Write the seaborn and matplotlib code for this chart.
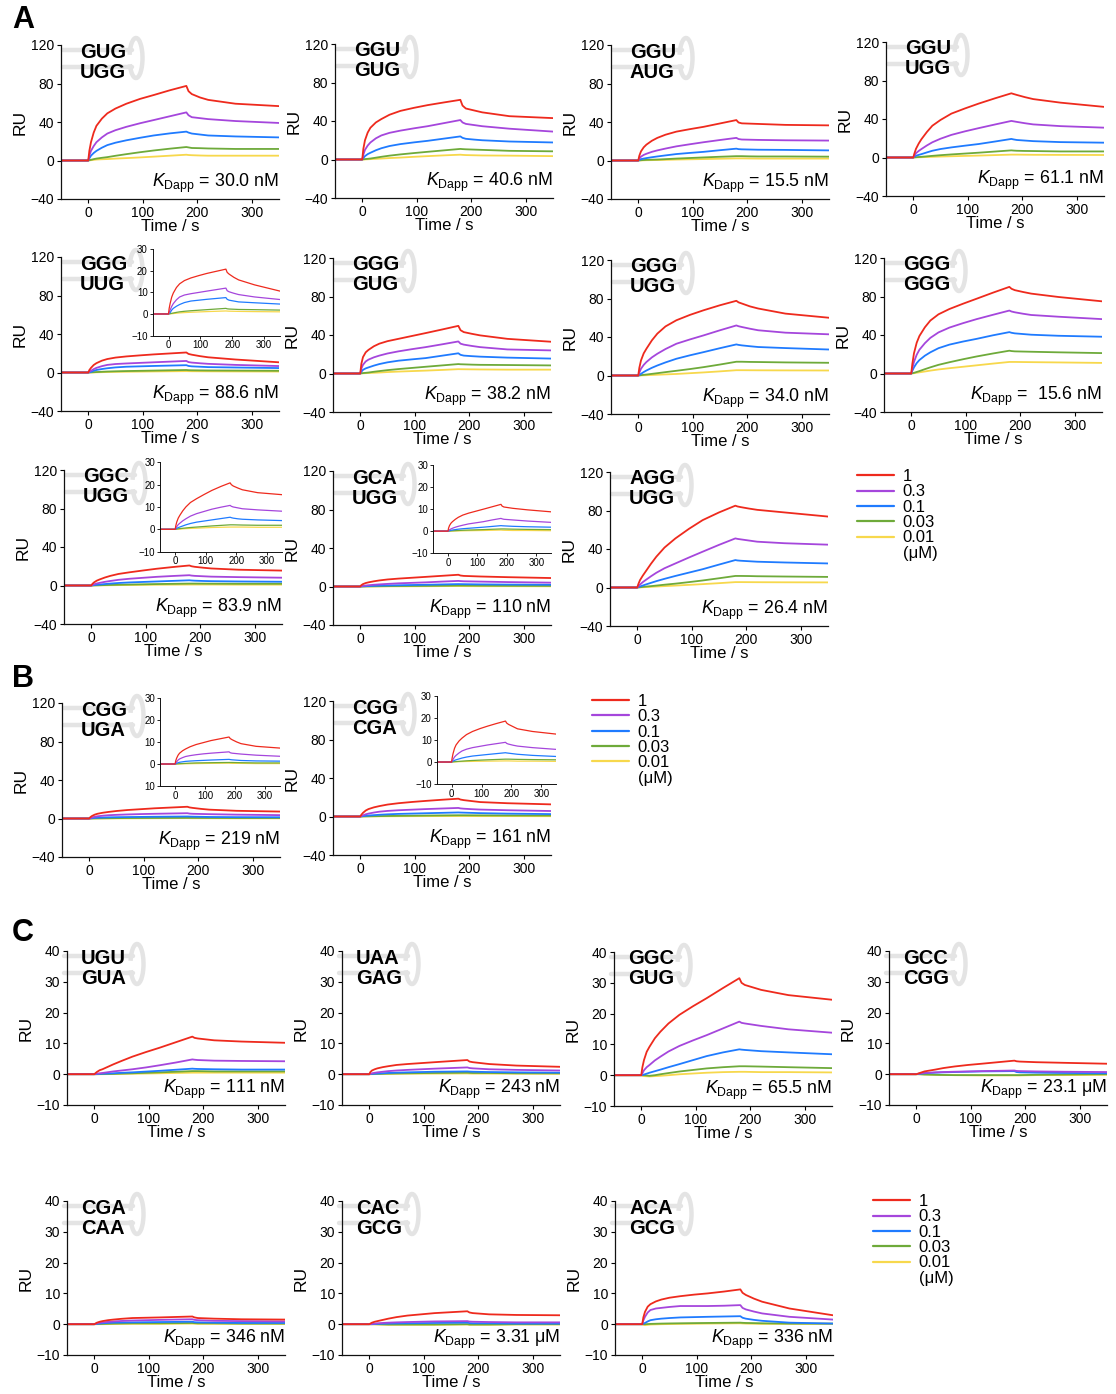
import numpy as np
import pandas as pd
import matplotlib
matplotlib.use("Agg")
import matplotlib.pyplot as plt
import seaborn as sns
from matplotlib.patches import Arc
from matplotlib.lines import Line2D

# ---------------- data ----------------
T_BASE = [-50, 0]
RU_BASE = [0, 0]
T_RUN = [2, 5, 10, 15, 25, 35, 50, 70, 95, 120, 150, 180, 184, 190, 205, 220, 270, 350]
CONCS = ["1", "0.3", "0.1", "0.03", "0.01"]
COLORS = ["#ee2a1d", "#a546dc", "#1f7bff", "#6eaa3a", "#f7d84c"]

# rows: 1, 0.3, 0.1, 0.03, 0.01 uM
A_GUG_UGG = [[10, 19, 29, 36, 43.5, 49, 54, 59, 64, 68, 73, 77.5, 72, 69, 65.5, 63, 59, 56.5],
             [5, 10, 15, 19, 24, 28, 31.5, 35, 38.7, 42, 46, 50, 47, 45, 44, 43, 41, 39],
             [2.2, 5, 7.8, 10, 13.3, 16, 18.5, 21, 23.6, 26, 28.2, 30, 29, 28, 27, 26, 25, 24],
             [0.3, 0.7, 1.4, 2, 2.8, 3.5, 4.9, 6.6, 8.6, 10.4, 12.3, 14, 13.6, 13, 12.8, 12.5, 12, 12],
             [0.1, 0.3, 0.7, 1, 1.3, 1.5, 2, 2.5, 3.2, 4, 5, 6, 5.7, 5.5, 5.2, 5, 5, 5]]
A_GGU_GUG = [[11, 20, 28, 33, 38.5, 42, 46.5, 50.5, 53.7, 56.5, 59.3, 62, 56, 53, 51, 49, 45, 43],
             [5, 10, 14.5, 17.7, 22, 25, 27.7, 30, 32.4, 34.6, 37.8, 41, 38.5, 37, 35.8, 34.6, 32, 29],
             [1.5, 3.5, 5.6, 7, 9.6, 11.7, 14, 16, 17.8, 19.4, 21.7, 24, 22.5, 21.5, 20.7, 20, 18.7, 17.7],
             [0.2, 0.4, 0.7, 1, 1.9, 2.8, 4, 5.3, 6.7, 8, 9.5, 11, 10.8, 10.6, 10.3, 10, 9, 8.5],
             [0.05, 0.1, 0.25, 0.4, 0.7, 1, 1.5, 2, 2.8, 3.5, 4.3, 5, 4.8, 4.6, 4.4, 4.2, 4, 3.5]]
A_GGU_AUG = [[5, 9.5, 13.7, 16.5, 20.5, 23.5, 26.8, 30, 32.6, 35, 38.5, 42, 39.5, 38.6, 38.3, 38, 37, 36.5],
             [2, 4, 5.8, 7, 9, 10.5, 12.4, 14.7, 16.9, 19, 21.3, 23.5, 22.3, 21.8, 21.6, 21.4, 21, 20.7],
             [0.6, 1.4, 2, 2.5, 3.4, 4.2, 5.3, 6.7, 7.9, 9, 10.7, 12.3, 11.8, 11.6, 11.4, 11.2, 11, 10.5],
             [0.1, 0.3, 0.5, 0.7, 0.85, 1, 1.4, 2, 2.6, 3.2, 3.9, 4.5, 4.5, 4.5, 4.3, 4.2, 4.2, 4],
             [0.05, 0.1, 0.2, 0.3, 0.4, 0.5, 0.7, 1, 1.25, 1.5, 1.85, 2.2, 2.2, 2.2, 2.1, 2, 2, 2]]
A_GGU_UGG = [[4, 9, 14.5, 19, 26.5, 33, 39, 45.6, 51, 56, 61.5, 66.7, 66, 65, 62.7, 60.7, 57, 52.6],
             [2, 4.5, 6.8, 8.8, 12.5, 15.8, 19.5, 23.5, 27.2, 30.5, 34.3, 38, 37.6, 37, 35.6, 34.4, 32.6, 31],
             [0.8, 1.8, 2.7, 3.5, 5.3, 7, 8.8, 10.5, 12.3, 14, 16.6, 19.3, 18.8, 18.2, 17.6, 17, 16, 15.4],
             [0.1, 0.3, 0.5, 0.7, 1.2, 1.7, 2.4, 3.2, 4.1, 5, 6.2, 7.4, 7.2, 7, 6.8, 6.7, 6.3, 6.3],
             [0.05, 0.1, 0.2, 0.3, 0.5, 0.7, 1, 1.3, 1.65, 2, 2.5, 3, 3, 3, 2.9, 2.8, 2.7, 2.6]]
A_GGG_UUG = [[2.5, 4.8, 7.8, 9.7, 12.3, 14, 15.5, 16.7, 17.8, 18.8, 19.8, 20.8, 19.3, 18.5, 17, 15.8, 13.5, 10.6],
             [0.8, 1.8, 3.5, 4.8, 6.6, 7.9, 8.8, 9.4, 10, 10.6, 11.3, 12, 10.8, 10.3, 9.6, 9, 7.9, 6.7],
             [0.2, 0.6, 1.8, 2.6, 3.6, 4.4, 5.3, 6, 6.4, 6.8, 7.2, 7.6, 6.8, 6.4, 6, 5.6, 5.2, 4.6],
             [0.05, 0.15, 0.3, 0.45, 0.75, 1, 1.25, 1.5, 1.75, 2, 2.3, 2.6, 2.4, 2.3, 2.2, 2.1, 2, 1.8],
             [0.02, 0.05, 0.12, 0.2, 0.35, 0.5, 0.65, 0.8, 0.95, 1.1, 1.25, 1.4, 1.35, 1.3, 1.25, 1.2, 1.1, 1.0]]
A_GGG_GUG = [[10, 17, 22, 24.5, 28.3, 31, 33.6, 36, 39, 42, 45.7, 49.5, 45, 43, 41.2, 39.6, 36, 33],
             [5, 9, 12.5, 14.4, 16.8, 18.6, 20.8, 23, 25.3, 27.4, 30.3, 33.3, 31, 30, 28.6, 27.4, 25, 24],
             [1.8, 3.8, 5.3, 6.3, 8.2, 9.8, 11.6, 13.3, 14.7, 16, 18.5, 21, 19.4, 18.6, 18, 17.5, 16.5, 15.5],
             [0.2, 0.4, 0.7, 1, 1.8, 2.5, 3.5, 4.6, 5.8, 7, 8.4, 9.8, 9.6, 9.5, 9.2, 9, 8.8, 8.4],
             [0.1, 0.2, 0.35, 0.5, 0.75, 1, 1.5, 2, 2.5, 3, 3.7, 4.5, 4.45, 4.4, 4.3, 4.2, 4, 4]]
A_GGG_UGG = [[8, 15.6, 23, 27.8, 36.5, 43.5, 51, 57.4, 63, 67.8, 73, 77.6, 76, 74.8, 71.8, 69.6, 64.3, 60],
             [3, 7, 11, 14, 18.8, 22.6, 27.5, 33, 37.5, 41.7, 47, 52, 51.2, 50.4, 48.6, 47, 44.5, 42.8],
             [0.6, 1.7, 3.6, 5.2, 8, 10.4, 13.6, 17.4, 21, 24.3, 28.4, 32.3, 31.8, 31.3, 30.4, 29.6, 28.5, 27],
             [0.1, 0.35, 0.7, 1, 1.7, 2.4, 3.5, 4.9, 6.7, 8.7, 11.4, 14.3, 14.3, 14.3, 14.1, 14, 13.6, 13.2],
             [0.05, 0.1, 0.2, 0.3, 0.55, 0.8, 1.15, 1.6, 2.4, 3.2, 4.3, 5.5, 5.5, 5.5, 5.45, 5.4, 5.3, 5.2]]
A_GGG_GGG = [[10, 21, 32, 39, 48, 55, 61.5, 67, 72.5, 77.7, 84, 90, 88, 86.6, 84.7, 83, 79.5, 75],
             [5.5, 12, 19.5, 24.7, 31.5, 37, 42.7, 47.7, 52.3, 56.5, 61, 65.4, 64.4, 63.6, 62.1, 60.8, 59, 56.5],
             [2.8, 6.4, 10.8, 14, 18.5, 22, 26.3, 30, 33.2, 36, 39.7, 43, 42.3, 41.7, 41, 40.3, 39.2, 38.2],
             [0.3, 0.7, 1.6, 2.5, 4.5, 6.4, 9, 11.7, 14.8, 17.7, 20.8, 23.7, 23.3, 23, 22.8, 22.6, 22, 21.2],
             [0.1, 0.3, 0.8, 1.2, 2.1, 3, 4.2, 5.5, 7, 8.5, 10.3, 12, 12, 12, 11.9, 11.8, 11.5, 11]]
A_GGC_UGG = [[1.6, 3.2, 5, 6.2, 8.3, 10, 12, 13.7, 15.6, 17.4, 19.2, 20.8, 20, 19.4, 18.5, 17.7, 16.4, 15.5],
             [0.5, 1.2, 2.1, 2.7, 3.8, 4.7, 5.9, 7, 8, 9, 9.9, 10.7, 10.3, 10, 9.6, 9.2, 8.7, 8.1],
             [0.15, 0.4, 0.75, 1, 1.5, 2, 2.6, 3.2, 3.7, 4.2, 4.8, 5.4, 5.2, 5, 4.7, 4.5, 4.2, 3.9],
             [0.04, 0.1, 0.2, 0.3, 0.45, 0.6, 0.8, 1, 1.25, 1.5, 1.75, 2, 2, 2, 1.95, 1.9, 1.8, 1.8],
             [0.02, 0.05, 0.08, 0.1, 0.2, 0.3, 0.4, 0.5, 0.65, 0.8, 0.9, 1.0, 1.0, 1.0, 1.0, 1.0, 0.9, 0.9]]
A_GCA_UGG = [[1.4, 2.5, 3.6, 4.3, 5.4, 6.3, 7.3, 8.2, 9.1, 10, 11.1, 12.2, 11.4, 11, 10.7, 10.4, 9.7, 8.8],
             [0.3, 0.6, 1, 1.3, 1.8, 2.2, 2.7, 3.3, 3.8, 4.3, 5.1, 5.8, 5.6, 5.4, 5.25, 5.1, 4.6, 4],
             [0.1, 0.2, 0.35, 0.5, 0.7, 0.9, 1.1, 1.3, 1.55, 1.8, 2.15, 2.5, 2.45, 2.4, 2.3, 2.2, 2, 1.8],
             [0.02, 0.05, 0.1, 0.15, 0.22, 0.3, 0.4, 0.5, 0.6, 0.7, 0.85, 1.0, 1.0, 1.0, 0.95, 0.9, 0.8, 0.7],
             [0, 0, 0.03, 0.05, 0.08, 0.1, 0.15, 0.2, 0.25, 0.3, 0.4, 0.5, 0.45, 0.4, 0.35, 0.3, 0.3, 0.2]]
A_AGG_UGG = [[3.5, 7.6, 12.2, 16.3, 24.5, 32, 41.5, 51, 61, 70, 78, 85, 84.2, 83.5, 82, 80.7, 78, 73.7],
             [1.3, 3, 5.5, 7.6, 11.6, 15.3, 20, 25, 31.2, 37.2, 44.3, 51, 50.5, 50, 48.8, 47.6, 46, 44.5],
             [0.4, 1, 2, 3, 4.8, 6.6, 9, 12, 15.5, 19, 23.8, 28.5, 28.1, 27.8, 27.3, 26.8, 26, 25],
             [0.1, 0.3, 0.6, 0.9, 1.4, 2, 2.9, 4, 5.6, 7.3, 9.6, 12, 12, 12, 11.9, 11.7, 11.4, 11],
             [0.04, 0.1, 0.25, 0.4, 0.7, 1, 1.45, 2, 2.75, 3.5, 4.5, 5.6, 5.6, 5.6, 5.55, 5.5, 5.4, 5.3]]
B_CGG_UGA = [[1.4, 2.6, 4, 4.9, 6, 6.8, 7.8, 8.8, 9.7, 10.6, 11.4, 12.2, 11.5, 11, 10, 9.2, 8, 7.2],
             [0.4, 1, 1.8, 2.3, 2.9, 3.4, 3.8, 4.2, 4.6, 4.9, 5.2, 5.5, 5.1, 4.9, 4.7, 4.5, 4, 3.5],
             [0.1, 0.3, 0.6, 0.8, 1, 1.2, 1.35, 1.5, 1.65, 1.8, 1.95, 2.1, 2, 1.9, 1.75, 1.6, 1.4, 1.3],
             [0.02, 0.05, 0.1, 0.15, 0.22, 0.3, 0.4, 0.5, 0.55, 0.6, 0.65, 0.7, 0.7, 0.7, 0.65, 0.6, 0.5, 0.5],
             [0, 0, 0.03, 0.05, 0.08, 0.1, 0.15, 0.2, 0.25, 0.3, 0.35, 0.4, 0.35, 0.3, 0.3, 0.3, 0.2, 0.2]]
B_CGG_CGA = [[1.8, 3.8, 6.2, 7.7, 9.5, 10.8, 12.4, 13.8, 15.1, 16.2, 17.4, 18.5, 17.6, 17, 16, 15, 13.8, 12.6],
             [0.5, 1.2, 2.3, 3, 4.1, 5, 5.8, 6.5, 7.1, 7.7, 8.3, 8.9, 8.4, 8.1, 7.6, 7.2, 6.5, 5.7],
             [0.15, 0.4, 0.75, 1, 1.4, 1.8, 2.25, 2.7, 3.05, 3.4, 3.8, 4.2, 4.1, 4, 3.75, 3.5, 3, 2.5],
             [0.04, 0.1, 0.15, 0.2, 0.3, 0.4, 0.55, 0.7, 0.85, 1.0, 1.15, 1.3, 1.3, 1.3, 1.25, 1.2, 1.1, 1.0],
             [0, 0, 0.05, 0.1, 0.15, 0.2, 0.25, 0.3, 0.35, 0.4, 0.45, 0.5, 0.5, 0.5, 0.45, 0.4, 0.4, 0.3]]
C_UGU_GUA = [[0.3, 0.75, 1.3, 1.6, 2.4, 3.2, 4.3, 5.7, 7.2, 8.6, 10.4, 12.2, 11.8, 11.6, 11.3, 11, 10.6, 10.2],
             [0.1, 0.2, 0.3, 0.4, 0.65, 0.9, 1.2, 1.6, 2.2, 2.9, 3.8, 4.8, 4.7, 4.6, 4.5, 4.4, 4.3, 4.2],
             [0, 0.05, 0.1, 0.15, 0.22, 0.3, 0.45, 0.6, 0.85, 1.1, 1.45, 1.8, 1.75, 1.7, 1.65, 1.6, 1.5, 1.5],
             [0, 0, 0.03, 0.05, 0.08, 0.1, 0.2, 0.3, 0.45, 0.6, 0.8, 1.0, 1.0, 1.0, 0.95, 0.9, 0.9, 0.9],
             [0, 0, 0, 0, 0.03, 0.05, 0.1, 0.15, 0.22, 0.3, 0.4, 0.5, 0.5, 0.5, 0.5, 0.5, 0.5, 0.5]]
C_UAA_GAG = [[0.7, 1.2, 1.6, 1.9, 2.3, 2.6, 3, 3.3, 3.6, 3.9, 4.25, 4.6, 4.1, 3.9, 3.6, 3.3, 2.8, 2.4],
             [0.1, 0.3, 0.45, 0.6, 0.8, 1.0, 1.2, 1.4, 1.6, 1.8, 2, 2.2, 2, 1.9, 1.75, 1.6, 1.4, 1.2],
             [0.05, 0.1, 0.15, 0.2, 0.3, 0.4, 0.5, 0.6, 0.7, 0.8, 0.85, 0.9, 0.85, 0.8, 0.75, 0.7, 0.6, 0.5],
             [0.02, 0.05, 0.08, 0.1, 0.15, 0.2, 0.25, 0.3, 0.35, 0.4, 0.45, 0.5, 0.45, 0.4, 0.4, 0.4, 0.3, 0.3],
             [0, 0, 0.03, 0.05, 0.08, 0.1, 0.12, 0.15, 0.18, 0.2, 0.22, 0.25, 0.22, 0.2, 0.2, 0.2, 0.15, 0.1]]
C_GGC_GUG = [[2.5, 4.9, 7.6, 9.2, 12, 14.1, 16.8, 19.6, 22.4, 25, 28.3, 31.5, 30, 29.3, 28.5, 27.7, 26, 24.5],
             [0.6, 1.6, 2.6, 3.3, 4.8, 6, 7.7, 9.5, 11.3, 13, 15.2, 17.4, 17, 16.8, 16.4, 16, 14.9, 13.8],
             [0.05, 0.2, 0.5, 0.8, 1.3, 1.8, 2.6, 3.6, 4.9, 6.2, 7.4, 8.4, 8.3, 8.2, 8, 7.8, 7.4, 6.8],
             [0, 0, -0.1, -0.2, 0, 0.3, 0.7, 1.2, 1.7, 2.2, 2.6, 2.9, 2.9, 2.9, 2.85, 2.8, 2.6, 2.3],
             [-0.2, -0.3, -0.35, -0.4, -0.3, -0.2, 0, 0.3, 0.55, 0.8, 1, 1.1, 1.1, 1.1, 1.05, 1, 1, 0.9]]
C_GCC_CGG = [[0.1, 0.3, 0.6, 0.9, 1.2, 1.5, 2, 2.5, 3, 3.4, 3.9, 4.4, 4.2, 4.1, 4, 3.9, 3.7, 3.4],
             [0.1, 0.2, 0.3, 0.4, 0.5, 0.6, 0.7, 0.8, 0.9, 1, 1.1, 1.2, 1.05, 1, 0.95, 0.9, 0.8, 0.7],
             [0.05, 0.1, 0.2, 0.3, 0.4, 0.5, 0.6, 0.7, 0.8, 0.9, 0.95, 1.0, 0.7, 0.6, 0.55, 0.5, 0.4, 0.3],
             [0, 0, -0.05, -0.1, -0.15, -0.2, -0.25, -0.3, -0.3, -0.3, -0.3, -0.3, -0.3, -0.3, -0.25, -0.2, -0.1, 0],
             [0, 0, -0.05, -0.1, -0.15, -0.2, -0.25, -0.3, -0.35, -0.4, -0.4, -0.4, -0.4, -0.4, -0.35, -0.3, -0.3, -0.2]]
C_CGA_CAA = [[0.2, 0.5, 0.8, 1, 1.3, 1.5, 1.75, 2, 2.1, 2.2, 2.35, 2.5, 2.2, 2, 1.9, 1.8, 1.6, 1.5],
             [0.1, 0.3, 0.5, 0.6, 0.75, 0.9, 1.05, 1.2, 1.3, 1.4, 1.5, 1.6, 1.4, 1.3, 1.2, 1.1, 1, 0.9],
             [0.05, 0.1, 0.2, 0.3, 0.4, 0.5, 0.55, 0.6, 0.65, 0.7, 0.75, 0.8, 0.65, 0.6, 0.55, 0.5, 0.4, 0.4],
             [0.02, 0.05, 0.08, 0.1, 0.15, 0.2, 0.25, 0.3, 0.3, 0.3, 0.35, 0.4, 0.35, 0.3, 0.3, 0.3, 0.2, 0.2],
             [0, 0, 0, 0, 0.03, 0.05, 0.08, 0.1, 0.1, 0.1, 0.15, 0.2, 0.15, 0.1, 0.1, 0.1, 0.1, 0.1]]
C_CAC_GCG = [[0.2, 0.5, 0.8, 1, 1.4, 1.8, 2.3, 2.8, 3.2, 3.6, 3.9, 4.2, 3.8, 3.6, 3.4, 3.2, 3, 2.9],
             [0.05, 0.1, 0.2, 0.3, 0.4, 0.5, 0.6, 0.7, 0.8, 0.9, 0.95, 1, 0.85, 0.8, 0.75, 0.7, 0.6, 0.6],
             [0, 0, 0.05, 0.1, 0.15, 0.2, 0.25, 0.3, 0.35, 0.4, 0.45, 0.5, 0.35, 0.3, 0.3, 0.3, 0.2, 0.2],
             [0, 0, 0, 0, -0.05, -0.1, -0.1, -0.1, -0.1, -0.1, -0.05, 0, -0.1, -0.1, -0.1, -0.1, 0, 0],
             [0, 0, -0.05, -0.1, -0.15, -0.2, -0.2, -0.2, -0.2, -0.2, -0.15, -0.1, -0.2, -0.2, -0.2, -0.2, -0.1, -0.1]]
C_ACA_GCG = [[2.2, 4, 5.7, 6.5, 7.4, 8, 8.6, 9.1, 9.6, 10, 10.6, 11.3, 10.2, 9.5, 8.3, 7.3, 5.1, 2.9],
             [1.2, 2.4, 3.8, 4.6, 5.1, 5.3, 5.6, 5.9, 5.9, 5.9, 6, 6.2, 5.3, 4.8, 4.1, 3.5, 2.4, 1.5],
             [0.15, 0.4, 0.9, 1.3, 1.6, 1.8, 2, 2.2, 2.3, 2.4, 2.5, 2.6, 2.1, 1.8, 1.4, 1.1, 0.5, 0.2],
             [0, 0, 0.05, 0.1, 0.15, 0.2, 0.25, 0.3, 0.35, 0.4, 0.45, 0.5, 0.45, 0.4, 0.35, 0.3, 0.2, 0.2],
             [-0.2, -0.3, -0.2, -0.1, -0.05, 0, 0.05, 0.1, 0.15, 0.2, 0.25, 0.3, 0.25, 0.2, 0.15, 0.1, 0.1, 0.1]]

SEQ_TOP = ["GUG", "GGU", "GGU", "GGU", "GGG", "GGG", "GGG", "GGG", "GGC", "GCA", "AGG",
           "CGG", "CGG", "UGU", "UAA", "GGC", "GCC", "CGA", "CAC", "ACA"]
SEQ_BOT = ["UGG", "GUG", "AUG", "UGG", "UUG", "GUG", "UGG", "GGG", "UGG", "UGG", "UGG",
           "UGA", "CGA", "GUA", "GAG", "GUG", "CGG", "CAA", "GCG", "GCG"]
KD_TEXT = ["= 30.0 nM", "= 40.6 nM", "= 15.5 nM", "= 61.1 nM", "= 88.6 nM", "= 38.2 nM",
           "= 34.0 nM", "=  15.6 nM", "= 83.9 nM", "= 110 nM", "= 26.4 nM",
           "= 219 nM", "= 161 nM", "= 111 nM", "= 243 nM", "= 65.5 nM", "= 23.1 μM",
           "= 346 nM", "= 3.31 μM", "= 336 nM"]
PANEL_DATA = [A_GUG_UGG, A_GGU_GUG, A_GGU_AUG, A_GGU_UGG, A_GGG_UUG, A_GGG_GUG,
              A_GGG_UGG, A_GGG_GGG, A_GGC_UGG, A_GCA_UGG, A_AGG_UGG,
              B_CGG_UGA, B_CGG_CGA, C_UGU_GUA, C_UAA_GAG, C_GGC_GUG, C_GCC_CGG,
              C_CGA_CAA, C_CAC_GCG, C_ACA_GCG]
X_TICKS = [0, 100, 200, 300]
Y_TICKS_AB = [-40, 0, 40, 80, 120]
Y_TICKS_C = [-10, 0, 10, 20, 30, 40]
Y_TICKS_INSET = [-10, 0, 10, 20, 30]
INSET_B1_LABELS = ["10", "0", "10", "20", "30"]

# ---------------- layout (pixels) ----------------
W, H = 1116, 1394
AX_W, AX_H = 218, 154
POS = [(61, 45), (335, 44), (611, 45), (886, 42),
       (61, 257), (333, 258), (611, 260), (884, 258),
       (64, 470), (333, 471), (610, 472),
       (62, 703), (333, 701),
       (67, 951), (342, 951), (614, 952), (889, 951),
       (67, 1201), (342, 1201), (615, 1201)]
INSETS = {4: [0.42, 0.49, 0.585, 0.56], 8: [0.44, 0.47, 0.56, 0.58],
          9: [0.46, 0.467, 0.54, 0.57], 11: [0.45, 0.46, 0.55, 0.575],
          12: [0.475, 0.46, 0.55, 0.575]}

sns.set_style("ticks")
plt.rcParams["font.family"] = ["Liberation Sans", "DejaVu Sans"]
plt.rcParams["mathtext.fontset"] = "custom"
plt.rcParams["mathtext.rm"] = "Liberation Sans"
plt.rcParams["mathtext.it"] = "Liberation Sans:italic"
plt.rcParams["axes.linewidth"] = 0.9
plt.rcParams["axes.edgecolor"] = "#111111"
plt.rcParams["text.color"] = "black"
plt.rcParams["axes.labelcolor"] = "black"
plt.rcParams["xtick.color"] = "black"
plt.rcParams["ytick.color"] = "black"

fig = plt.figure(figsize=(W / 100, H / 100), dpi=100)
PALETTE = dict(zip(CONCS, COLORS))


def frame(data):
    rows = []
    for conc, vals in zip(CONCS, data):
        for t, v in zip(T_BASE + T_RUN, RU_BASE + list(vals)):
            rows.append((t, v, conc))
    return pd.DataFrame(rows, columns=["t", "RU", "conc"])


def draw_curves(ax, df, lw):
    sns.lineplot(data=df, x="t", y="RU", hue="conc", hue_order=CONCS[::-1],
                 palette=PALETTE, estimator=None, sort=False, legend=False,
                 linewidth=lw, ax=ax)


def add_axes_px(x, y, w, h):
    return fig.add_axes([x / W, 1 - (y + h) / H, w / W, h / H])


def hairpin(ax, dx0):
    def fx(px):
        return (px + dx0) / AX_W

    def fy(py):
        return 1 - py / AX_H
    col = "#e4e4e4"
    lw = 3.2
    cx, cy, lw_px, lh_px = 75, 13, 13, 40
    for sy in (5, 22):
        ax.add_line(Line2D([fx(2), fx(71)], [fy(sy), fy(sy)], color=col, lw=lw,
                           transform=ax.transAxes, clip_on=False, zorder=0.5,
                           solid_capstyle="round"))
    arc = Arc((fx(cx), fy(cy)), lw_px / AX_W, lh_px / AX_H, theta1=-125, theta2=145,
              color=col, lw=lw, transform=ax.transAxes, clip_on=False, zorder=0.5)
    ax.add_patch(arc)


for i, data in enumerate(PANEL_DATA):
    x, y = POS[i]
    ax = add_axes_px(x, y, AX_W, AX_H)
    isC = i >= 13
    df = frame(data)
    draw_curves(ax, df, 1.3)
    ax.set_xlim(-50, 350)
    ax.set_xticks(X_TICKS)
    if isC:
        ax.set_ylim(-10, 40)
        ax.set_yticks(Y_TICKS_C)
    else:
        ax.set_ylim(-40, 120)
        ax.set_yticks(Y_TICKS_AB)
    sns.despine(ax=ax)
    ax.tick_params(labelsize=10, length=3, width=0.8, pad=2)
    ax.set_xlabel("Time / s", fontsize=12, labelpad=-1)
    ax.set_ylabel("RU", fontsize=12.5, labelpad=2)
    dx0 = -5 if isC else 0
    hairpin(ax, dx0)
    ax.text((19 + dx0) / AX_W, 1 - 7 / AX_H, SEQ_TOP[i], transform=ax.transAxes,
            fontsize=14.5, fontweight="bold", va="center", ha="left", zorder=3)
    ax.text((19 + dx0) / AX_W, 1 - 27 / AX_H, SEQ_BOT[i], transform=ax.transAxes,
            fontsize=14.5, fontweight="bold", va="center", ha="left", zorder=3)
    ax.text(1.0, 0.075, r"$K_{\mathrm{Dapp}}$" + " " + KD_TEXT[i], transform=ax.transAxes,
            fontsize=12.8, ha="right", va="baseline")
    if i in INSETS:
        ins = ax.inset_axes(INSETS[i])
        draw_curves(ins, df, 0.9)
        ins.set_xlim(-50, 350)
        ins.set_ylim(-10, 30)
        ins.set_xticks(X_TICKS)
        ins.set_yticks(Y_TICKS_INSET)
        if i == 11:
            ins.set_yticklabels(INSET_B1_LABELS)
        sns.despine(ax=ins)
        for s in ins.spines.values():
            s.set_linewidth(0.7)
        ins.tick_params(labelsize=7, length=2, width=0.6, pad=1.5)
        ins.set_xlabel("")
        ins.set_ylabel("")

# panel letters
for letter, (lx, ly) in zip(["A", "B", "C"], [(12, 5), (12, 664), (12, 918)]):
    fig.text(lx / W, 1 - ly / H, letter, fontsize=22, fontweight="bold", va="top", ha="left")

# legends
handles = [Line2D([], [], color=c, lw=1.6) for c in COLORS] + [Line2D([], [], lw=0)]
labels = CONCS + ["(μM)"]
for (lx, ly) in [(857, 469), (592, 694), (873, 1194)]:
    fig.legend(handles, labels, loc="upper left", bbox_to_anchor=(lx / W, 1 - ly / H),
               frameon=False, fontsize=12, borderpad=0, borderaxespad=0,
               handlelength=2.2, handletextpad=0.55, labelspacing=0.02)

fig.savefig("out.png", dpi=100)
